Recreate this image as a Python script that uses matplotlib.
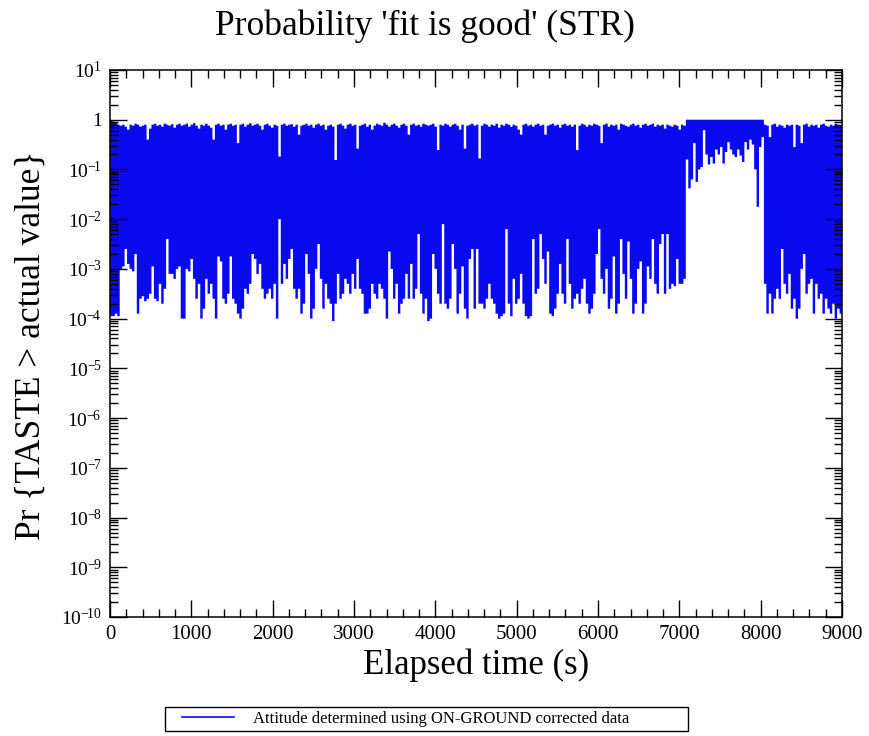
import numpy as np
import matplotlib
matplotlib.use("Agg")
import matplotlib.pyplot as plt
from matplotlib.ticker import MultipleLocator, LogLocator, FuncFormatter
from matplotlib.lines import Line2D
from matplotlib.patches import Rectangle

plt.rcParams['font.family'] = ['Liberation Serif', 'DejaVu Serif']
plt.rcParams['mathtext.fontset'] = 'custom'
plt.rcParams['mathtext.rm'] = 'Liberation Serif'
plt.rcParams['mathtext.it'] = 'Liberation Serif:italic'

# 30 s bins from 0 to 9000 s; for each bin the lowest and highest probability
# reached in it (log10)
bin_width = 30
t_end = 9000

log_lo = [
    -3.95, -3.95, -3.9, -3.95, -3.0, -2.95, -2.6, -2.9, -3.0, -3.05,
    -2.7, -3.9, -3.6, -3.55, -3.65, -3.6, -3.5, -2.95, -3.6, -3.65,
    -3.3, -3.7, -3.4, -2.4, -3.1, -3.1, -3.2, -3.0, -2.95, -4.0,
    -4.0, -3.0, -3.05, -2.8, -3.2, -3.6, -3.3, -4.0, -3.8, -3.2,
    -3.5, -3.3, -3.6, -4.0, -2.75, -2.85, -3.6, -3.7, -3.5, -2.75,
    -3.6, -3.7, -3.9, -4.0, -3.8, -3.4, -3.5, -3.3, -2.7, -2.8,
    -3.1, -2.9, -3.4, -3.6, -3.5, -3.4, -3.6, -3.3, -4.0, -2.0,
    -3.3, -2.9, -3.2, -2.8, -2.6, -3.4, -3.6, -3.4, -3.9, -3.7,
    -2.7, -3.1, -4.0, -3.8, -3.0, -2.5, -3.2, -3.8, -3.3, -3.6,
    -3.7, -4.05, -3.7, -3.1, -3.6, -3.5, -3.2, -3.3, -3.5, -3.1,
    -3.4, -2.8, -3.4, -3.5, -3.9, -3.9, -3.8, -3.3, -3.5, -3.6,
    -3.3, -3.4, -3.6, -4.0, -2.65, -3.0, -3.6, -3.3, -3.9, -3.7,
    -3.6, -3.1, -3.6, -2.9, -3.6, -3.4, -2.3, -3.5, -3.9, -3.6,
    -4.05, -4.0, -2.7, -3.0, -3.5, -3.7, -2.1, -3.7, -3.8, -3.6,
    -2.5, -3.0, -3.9, -3.5, -2.95, -3.8, -4.0, -2.8, -2.6, -3.8,
    -2.6, -3.7, -3.7, -3.8, -3.6, -3.3, -3.6, -3.7, -3.9, -4.0,
    -3.95, -3.9, -2.2, -3.7, -3.95, -3.2, -3.7, -3.6, -3.1, -3.7,
    -3.95, -4.0, -3.95, -2.4, -3.5, -3.4, -2.3, -2.8, -3.3, -2.65,
    -3.9, -3.95, -3.8, -3.5, -2.9, -3.5, -3.7, -2.4, -3.3, -3.8,
    -3.6, -3.5, -3.7, -3.4, -3.2, -3.7, -3.9, -3.8, -3.5, -2.7,
    -2.2, -3.2, -3.5, -3.0, -3.8, -3.6, -2.75, -3.9, -3.7, -2.4,
    -3.1, -3.6, -2.45, -3.2, -3.9, -3.7, -3.0, -2.85, -3.9, -3.7,
    -2.95, -3.2, -2.4, -3.3, -3.5, -2.5, -2.3, -3.5, -2.3, -3.4,
    -3.3, -3.35, -2.8, -3.3, -3.3, -3.2, -0.8, -1.38, -1.2, -0.47,
    -1.25, -1.0, -0.95, -0.21, -0.7, -0.9, -0.75, -0.88, -0.6, -0.7,
    -0.55, -0.88, -0.65, -0.45, -0.6, -0.7, -0.75, -0.6, -0.72, -0.85,
    -0.45, -0.6, -0.4, -0.5, -1.0, -1.75, -0.55, -0.35, -3.3, -3.9,
    -3.5, -3.9, -3.6, -3.4, -3.6, -2.6, -3.3, -3.5, -3.1, -3.8,
    -3.6, -4.0, -3.8, -3.0, -2.7, -3.5, -3.3, -3.2, -3.9, -3.3,
    -3.6, -3.5, -3.9, -3.6, -3.8, -3.9, -3.7, -4.0, -3.8, -3.9,
]

log_hi = [
    -0.02, -0.04, -0.06, -0.1, -0.12, -0.1, -0.14, -0.2, -0.1, -0.12,
    -0.08, -0.1, -0.14, -0.12, -0.1, -0.4, -0.18, -0.1, -0.08, -0.12,
    -0.1, -0.14, -0.08, -0.1, -0.12, -0.09, -0.16, -0.1, -0.08, -0.12,
    -0.1, -0.08, -0.14, -0.1, -0.07, -0.12, -0.18, -0.1, -0.12, -0.08,
    -0.12, -0.16, -0.4, -0.1, -0.08, -0.12, -0.1, -0.2, -0.1, -0.08,
    -0.12, -0.1, -0.47, -0.1, -0.08, -0.14, -0.1, -0.07, -0.12, -0.1,
    -0.08, -0.12, -0.2, -0.1, -0.08, -0.12, -0.16, -0.1, -0.12, -0.74,
    -0.1, -0.08, -0.12, -0.1, -0.09, -0.14, -0.1, -0.3, -0.12, -0.1,
    -0.08, -0.12, -0.1, -0.16, -0.1, -0.08, -0.12, -0.1, -0.2, -0.12,
    -0.1, -0.14, -0.81, -0.1, -0.08, -0.12, -0.18, -0.1, -0.08, -0.12,
    -0.1, -0.58, -0.12, -0.1, -0.08, -0.14, -0.1, -0.2, -0.12, -0.08,
    -0.1, -0.12, -0.06, -0.1, -0.14, -0.1, -0.08, -0.12, -0.16, -0.1,
    -0.08, -0.12, -0.3, -0.1, -0.08, -0.12, -0.1, -0.14, -0.08, -0.1,
    -0.12, -0.1, -0.08, -0.14, -0.61, -0.1, -0.12, -0.08, -0.1, -0.14,
    -0.1, -0.08, -0.12, -0.2, -0.1, -0.58, -0.12, -0.1, -0.08, -0.12,
    -0.1, -0.78, -0.12, -0.08, -0.1, -0.14, -0.1, -0.12, -0.08, -0.16,
    -0.1, -0.12, -0.08, -0.1, -0.14, -0.1, -0.12, -0.2, -0.3, -0.1,
    -0.08, -0.12, -0.1, -0.14, -0.1, -0.08, -0.12, -0.1, -0.3, -0.12,
    -0.1, -0.08, -0.12, -0.1, -0.16, -0.1, -0.08, -0.12, -0.1, -0.14,
    -0.1, -0.61, -0.12, -0.08, -0.1, -0.14, -0.1, -0.12, -0.08, -0.1,
    -0.12, -0.47, -0.1, -0.08, -0.14, -0.1, -0.12, -0.1, -0.2, -0.08,
    -0.1, -0.12, -0.14, -0.1, -0.08, -0.12, -0.1, -0.16, -0.1, -0.08,
    -0.12, -0.1, -0.08, -0.14, -0.1, -0.12, -0.1, -0.18, -0.1, -0.12,
    -0.14, -0.1, -0.12, -0.2, -0.1, -0.12, 0.0, 0.0, 0.0, 0.0,
    0.0, 0.0, 0.0, 0.0, 0.0, 0.0, 0.0, 0.0, 0.0, 0.0,
    0.0, 0.0, 0.0, 0.0, 0.0, 0.0, 0.0, 0.0, 0.0, 0.0,
    0.0, 0.0, 0.0, 0.0, 0.0, 0.0, 0.0, 0.0, -0.1, -0.12,
    -0.35, -0.1, -0.08, -0.14, -0.1, -0.12, -0.16, -0.1, -0.12, -0.1,
    -0.55, -0.1, -0.12, -0.47, -0.1, -0.08, -0.14, -0.1, -0.12, -0.1,
    -0.16, -0.1, -0.08, -0.12, -0.14, -0.1, -0.12, -0.08, -0.1, -0.12,
]

line_color = '#0a0af0'
legend_label = "Attitude determined using ON-GROUND corrected data"

edges = np.arange(0, t_end + bin_width, bin_width)
p_lo = 10.0 ** np.array(log_lo)
p_hi = 10.0 ** np.array(log_hi)

fig = plt.figure(figsize=(8.7, 7.36), dpi=100)
ax = fig.add_axes([0.1264, 0.1617, 0.8414, 0.7432])

ax.set_yscale('log')
ax.stairs(p_hi, edges, baseline=p_lo, fill=True, color=line_color, linewidth=0)

ax.set_xlim(0, t_end)
ax.set_ylim(1e-10, 1e1)

ax.xaxis.set_major_locator(MultipleLocator(1000))
ax.xaxis.set_minor_locator(MultipleLocator(200))
ax.yaxis.set_major_locator(LogLocator(base=10, numticks=20))
ax.yaxis.set_minor_locator(LogLocator(base=10, subs=np.arange(2, 10), numticks=200))


def fmt_pow(v, pos):
    e = int(round(np.log10(v)))
    if e == 0:
        return '1'
    # short hyphen in the exponent, like the original
    return r'$10^{\mathrm{%s}}$' % str(e).replace('-', '-\!')


ax.yaxis.set_major_formatter(FuncFormatter(fmt_pow))

ax.tick_params(which='both', direction='in', top=True, right=True, width=1, colors='black')
ax.tick_params(which='major', length=12)
ax.tick_params(which='minor', length=6)
ax.tick_params(axis='x', labelsize=15, pad=6)
ax.tick_params(axis='y', labelsize=14, pad=6)
for s in ax.spines.values():
    s.set_linewidth(1.1)

fig.text(0.489, 0.964, "Probability 'fit is good' (STR)", ha='center', va='center', fontsize=25.5)
ax.set_xlabel("Elapsed time (s)", fontsize=25, labelpad=3)
fig.text(0.036, 0.531, "Pr {TASTE > actual value}", ha='center', va='center',
         rotation=90, fontsize=25.5)

# legend box below the plot, wider on the right as in the original
fig.patches.append(Rectangle((0.1897, 0.0068), 0.601, 0.0326, transform=fig.transFigure,
                             fill=False, edgecolor='black', linewidth=1.0))
handle = Line2D([0], [0], color=line_color, linewidth=1.2)
fig.legend([handle], [legend_label], loc='center left', bbox_to_anchor=(0.2092, 0.0231),
           fontsize=12, frameon=False, borderpad=0, borderaxespad=0,
           handlelength=3.1, handletextpad=1.15)

fig.savefig('out.png', dpi=100)
